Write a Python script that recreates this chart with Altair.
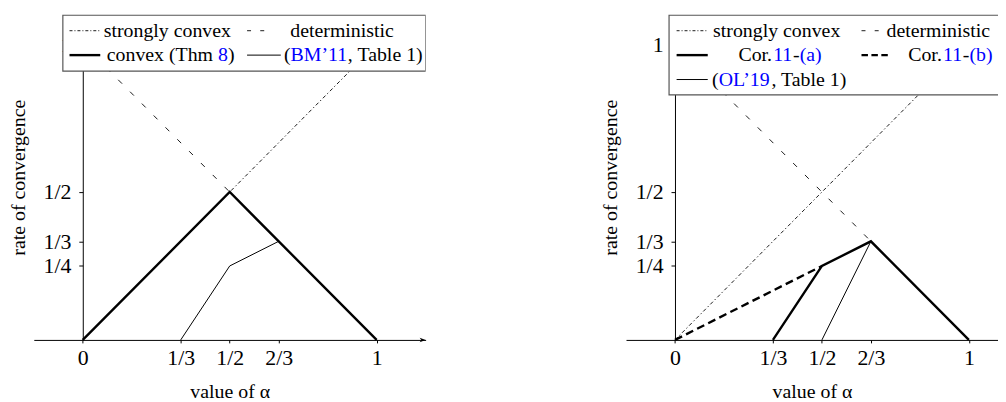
import altair as alt
import pandas as pd

# ---------------- data ----------------
x_ticks = [0, 1/3, 1/2, 2/3, 1]
x_tick_labels = ["0", "1/3", "1/2", "2/3", "1"]
y_ticks = [1/4, 1/3, 1/2, 1]
y_tick_labels = ["1/4", "1/3", "1/2", "1"]

# left panel
strong_alpha = [0, 1]
strong_rate = [0, 1]
determ_alpha = [0, 1]
determ_rate = [1, 0]
thm8_alpha = [0, 1/2, 1]
thm8_rate = [0, 1/2, 0]
bm11_alpha = [1/3, 1/2, 2/3, 1]
bm11_rate = [0, 1/4, 1/3, 0]

# right panel
cor_a_alpha = [1/3, 1/2, 2/3, 1]
cor_a_rate = [0, 1/4, 1/3, 0]
cor_b_alpha = [0, 1/2]
cor_b_rate = [0, 1/4]
ol19_alpha = [1/2, 2/3, 1]
ol19_rate = [0, 1/3, 0]

# legend labels (text pieces, "k" = black, "b" = blue link colour)
left_legend_labels = [
    [("strongly convex", "k")],
    [("deterministic", "k")],
    [("convex (Thm ", "k"), ("8", "b"), (")", "k")],
    [("(", "k"), ("BM\u201911", "b"), (", Table 1)", "k")],
]
right_legend_labels = [
    [("strongly convex", "k")],
    [("deterministic", "k")],
    [("Cor.", "k"), ("11", "b"), ("-", "k"), ("(a)", "b")],
    [("Cor.", "k"), ("11", "b"), ("-", "k"), ("(b)", "b")],
    [("(", "k"), ("OL\u201919", "b"), (", Table 1)", "k")],
]

# ---------------- styling / layout ----------------
FONT = "Liberation Serif"
FS = 20
TICK_FS = 22
BLUE = "#0000ff"
COLORS = {"k": "black", "b": BLUE}

# line styles in the plot area
STY = {
    "strong": dict(strokeWidth=0.9, strokeDash=[3.8, 2.5, 1.3, 2.5]),
    "determ": dict(strokeWidth=0.9, strokeDash=[5.5, 11.4]),
    "thick": dict(strokeWidth=2.4),
    "thin": dict(strokeWidth=1.0),
    "thickdash": dict(strokeWidth=2.4, strokeDash=[8, 4.5]),
}
# line styles of the legend samples
LSTY = {
    "strong": dict(strokeWidth=0.9, strokeDash=[3, 2, 1, 2]),
    "determ": dict(strokeWidth=0.9, strokeDash=[4, 9.3]),
    "thick": dict(strokeWidth=2.4),
    "thin": dict(strokeWidth=1.0),
    "thickdash": dict(strokeWidth=2.4, strokeDash=[6.5, 3.5]),
}

PX = 296.25          # pixels per unit on x
X_MIN = -1/6
H = 328
Y_MAX = 1.1
W_L = 395
W_R = 375

# Times / Liberation Serif advance widths (1/1000 em)
TW = {" ": 250, "(": 333, ")": 333, "\u2019": 333, ",": 250, "-": 333, ".": 250,
      "a": 444, "b": 500, "c": 444, "e": 444, "h": 500, "l": 278, "m": 778,
      "n": 500, "o": 500, "r": 333, "v": 500, "x": 500,
      "B": 667, "C": 667, "L": 611, "M": 889, "O": 722, "T": 611}


def twidth(s):
    return sum(TW.get(ch, 500) for ch in s) * FS / 1000.0


def label_expr(vals, labs):
    e = "''"
    for v, l in reversed(list(zip(vals, labs))):
        e = f"abs(datum.value - {v!r}) < 1e-6 ? '{l}' : ({e})"
    return e


one = pd.DataFrame({"k": [0]})


def panel(series, legend_items, labels, width, xmax, box, arrow):
    xaxis = alt.Axis(values=x_ticks, labelExpr=label_expr(x_ticks, x_tick_labels),
                     title="value of \u03b1", tickSize=3, labelPadding=5,
                     titlePadding=13, labelOverlap=False)
    yaxis = alt.Axis(values=y_ticks, labelExpr=label_expr(y_ticks, y_tick_labels),
                     title="rate of convergence", offset=X_MIN * PX, tickSize=4,
                     labelPadding=8, titlePadding=15, labelOverlap=False)
    xenc = alt.X("alpha:Q", scale=alt.Scale(domain=[X_MIN, xmax], nice=False, zero=False),
                 axis=xaxis)
    yenc = alt.Y("rate:Q", scale=alt.Scale(domain=[0, Y_MAX], nice=False, zero=False),
                 axis=yaxis)
    layers = []
    for alpha, rate, sty in series:
        df = pd.DataFrame({"alpha": alpha, "rate": rate})
        layers.append(alt.Chart(df).mark_line(color="black", **STY[sty]).encode(x=xenc, y=yenc))

    if arrow:
        layers.append(alt.Chart(one).mark_point(
            shape="M1,0L-1,-0.75L-0.45,0L-1,0.75Z", filled=True, size=36,
            color="black", opacity=1).encode(x=alt.value(width - 3), y=alt.value(H)))

    bx0, bx1, by0, by1 = box
    layers.append(alt.Chart(one).mark_rect(
        fill="white", stroke="#555555", strokeWidth=1.2, clip=True).encode(
        x=alt.value(bx0), x2=alt.value(bx1), y=alt.value(by0), y2=alt.value(by1)))

    for (sx0, sx1, sy, sty, tcenter, tbase), pieces in zip(legend_items, labels):
        layers.append(alt.Chart(one).mark_rule(color="black", **LSTY[sty]).encode(
            x=alt.value(sx0), x2=alt.value(sx1), y=alt.value(sy)))
        total = sum(twidth(t) for t, _ in pieces)
        xpos = tcenter - total / 2
        for t, c in pieces:
            layers.append(alt.Chart(one).mark_text(
                text=t, align="left", baseline="alphabetic", font=FONT, fontSize=FS,
                color=COLORS[c]).encode(x=alt.value(xpos), y=alt.value(tbase)))
            xpos += twidth(t)

    return alt.layer(*layers).properties(width=width, height=H)


ROW0 = 22.5   # baseline of first legend row (relative to plot top)
DROW = 24.6
SOFF = 6.2

left_items = [
    (36, 67, ROW0 - SOFF, "strong", 138, ROW0),
    (215, 235, ROW0 - SOFF, "determ", 323, ROW0),
    (36, 67, ROW0 + DROW - SOFF, "thick", 138, ROW0 + DROW),
    (215, 249, ROW0 + DROW - SOFF, "thin", 323, ROW0 + DROW),
]
right_items = [
    (51, 82.4, ROW0 - SOFF, "strong", 155.3, ROW0),
    (237.4, 257, ROW0 - SOFF, "determ", 327, ROW0),
    (51, 82.4, ROW0 + DROW - SOFF, "thick", 155.3, ROW0 + DROW),
    (237.4, 266.5, ROW0 + DROW - SOFF, "thickdash", 327, ROW0 + DROW),
    (51, 82.4, ROW0 + 2 * DROW - SOFF, "thin", 155.3, ROW0 + 2 * DROW),
]

left_series = [
    (strong_alpha, strong_rate, "strong"),
    (determ_alpha, determ_rate, "determ"),
    (bm11_alpha, bm11_rate, "thin"),
    (thm8_alpha, thm8_rate, "thick"),
]
right_series = [
    (strong_alpha, strong_rate, "strong"),
    (determ_alpha, determ_rate, "determ"),
    (ol19_alpha, ol19_rate, "thin"),
    (cor_b_alpha, cor_b_rate, "thickdash"),
    (cor_a_alpha, cor_a_rate, "thick"),
]

left = panel(left_series, left_items, left_legend_labels, W_L, 7/6,
             (29.3, W_L, 0.5, 57), True)
right = panel(right_series, right_items, right_legend_labels, W_R, X_MIN + W_R / PX,
              (43.4, W_R + 20, 0.5, 81), False)

chart = alt.hconcat(left, right, spacing=176).properties(
    padding={"left": 0, "top": 5, "right": 0, "bottom": 0}
).configure_view(stroke=None).configure_axis(
    domainColor="black", domainWidth=1, tickColor="black", tickWidth=1,
    labelFont=FONT, labelFontSize=TICK_FS, labelColor="black",
    titleFont=FONT, titleFontSize=FS, titleFontWeight="normal", titleColor="black",
    grid=False,
)

chart.save("out.html", embed_options={"renderer": "svg", "actions": False})
